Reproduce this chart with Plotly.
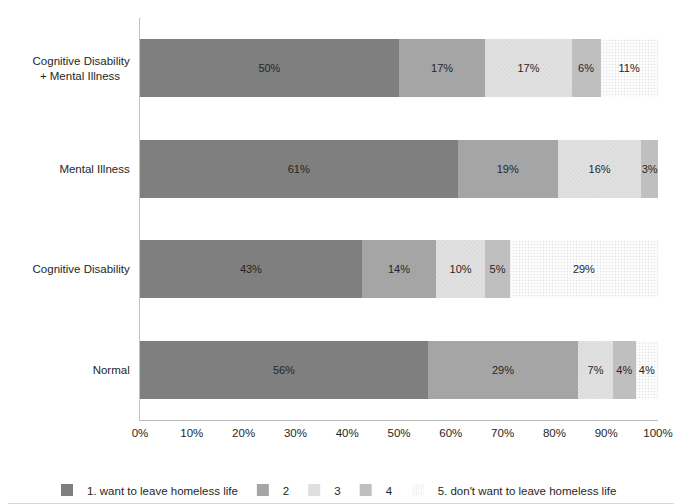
import plotly.graph_objects as go

categories = ["Normal", "Cognitive Disability", "Mental Illness",
              "Cognitive Disability<br>+ Mental Illness&nbsp;&nbsp;&nbsp;"]
series_names = ["1. want to leave homeless life", "2", "3", "4",
                "5. don't want to leave homeless life"]
s1 = [55.6, 42.86, 61.3, 50.0]
s2 = [29.0, 14.29, 19.4, 16.67]
s3 = [6.7, 9.52, 16.1, 16.67]
s4 = [4.4, 4.76, 3.2, 5.56]
s5 = [4.3, 28.57, 0.0, 11.11]
tick_vals = [0, 10, 20, 30, 40, 50, 60, 70, 80, 90, 100]
tick_text = [f"{v}%" for v in tick_vals]

series = [s1, s2, s3, s4, s5]
colors = ["#7f7f7f", "#a5a5a5", "#dedede", "#bfbfbf", "#ffffff"]
patterns = [None, None,
            dict(shape="x", fgcolor="#c4c4c4", bgcolor="#e2e2e2", size=3, solidity=0.3),
            None,
            dict(shape=".", fgcolor="#cfcfcf", bgcolor="#ffffff", size=3, solidity=0.3)]

FONT = "Liberation Sans, Arial, sans-serif"
fig = go.Figure()
for name, vals, col, pat in zip(series_names, series, colors, patterns):
    marker = dict(color=col, line=dict(width=0))
    if pat:
        marker["pattern"] = pat
    fig.add_trace(go.Bar(
        y=categories, x=vals, name=name, orientation="h",
        marker=marker,
        text=[f"{round(v)}%" if v > 0 else "" for v in vals],
        textposition="inside", insidetextanchor="middle", textangle=0,
        textfont=dict(family=FONT, size=11, color="#262626"),
        hoverinfo="skip",
    ))

# page body has an 8px margin, so the figure is sized to fit inside it
OFF = 8
W, H = 682 - OFF, 504 - OFF
L, R, T, B = 140 - OFF, 24, 18 - OFF, 84
pw, ph = W - L - R, H - T - B
fig.update_layout(
    width=W, height=H, barmode="stack", bargap=0.42,
    margin=dict(l=L, r=R, t=T, b=B, autoexpand=False),
    paper_bgcolor="white", plot_bgcolor="white",
    font=dict(family=FONT, size=11.5, color="#262626"),
    uniformtext=dict(minsize=11, mode="show"),
    xaxis=dict(range=[0, 100], tickvals=tick_vals, ticktext=tick_text,
               showgrid=False, zeroline=False, showline=True,
               linecolor="#bfbfbf", linewidth=1, ticks="outside",
               ticklen=2, tickcolor="rgba(0,0,0,0)", automargin=False,
               tickfont=dict(size=11.5, color="#262626")),
    yaxis=dict(showgrid=False, zeroline=False, showline=True,
               linecolor="#bfbfbf", linewidth=1, ticks="outside",
               ticklen=7, tickcolor="rgba(0,0,0,0)", automargin=False,
               tickfont=dict(size=11.5, color="#262626")),
    legend=dict(orientation="h", x=(47 - OFF - L) / pw, xanchor="left",
                y=(H - B - (490 - OFF)) / ph, yanchor="middle",
                bgcolor="rgba(0,0,0,0)",
                font=dict(size=11.5, color="#262626"), traceorder="normal",
                itemwidth=30),
    shapes=[
        dict(type="line", xref="paper", yref="paper",
             x0=(W - 0.5 - L) / pw, x1=(W - 0.5 - L) / pw,
             y0=-(B - 0.5) / ph, y1=(H - B) / ph,
             line=dict(color="#d9d9d9", width=1)),
        dict(type="line", xref="paper", yref="paper",
             x0=-L / pw, x1=(W - L) / pw,
             y0=-(B - 0.5) / ph, y1=-(B - 0.5) / ph,
             line=dict(color="#d9d9d9", width=1)),
    ],
)
fig.write_html("out.html")
